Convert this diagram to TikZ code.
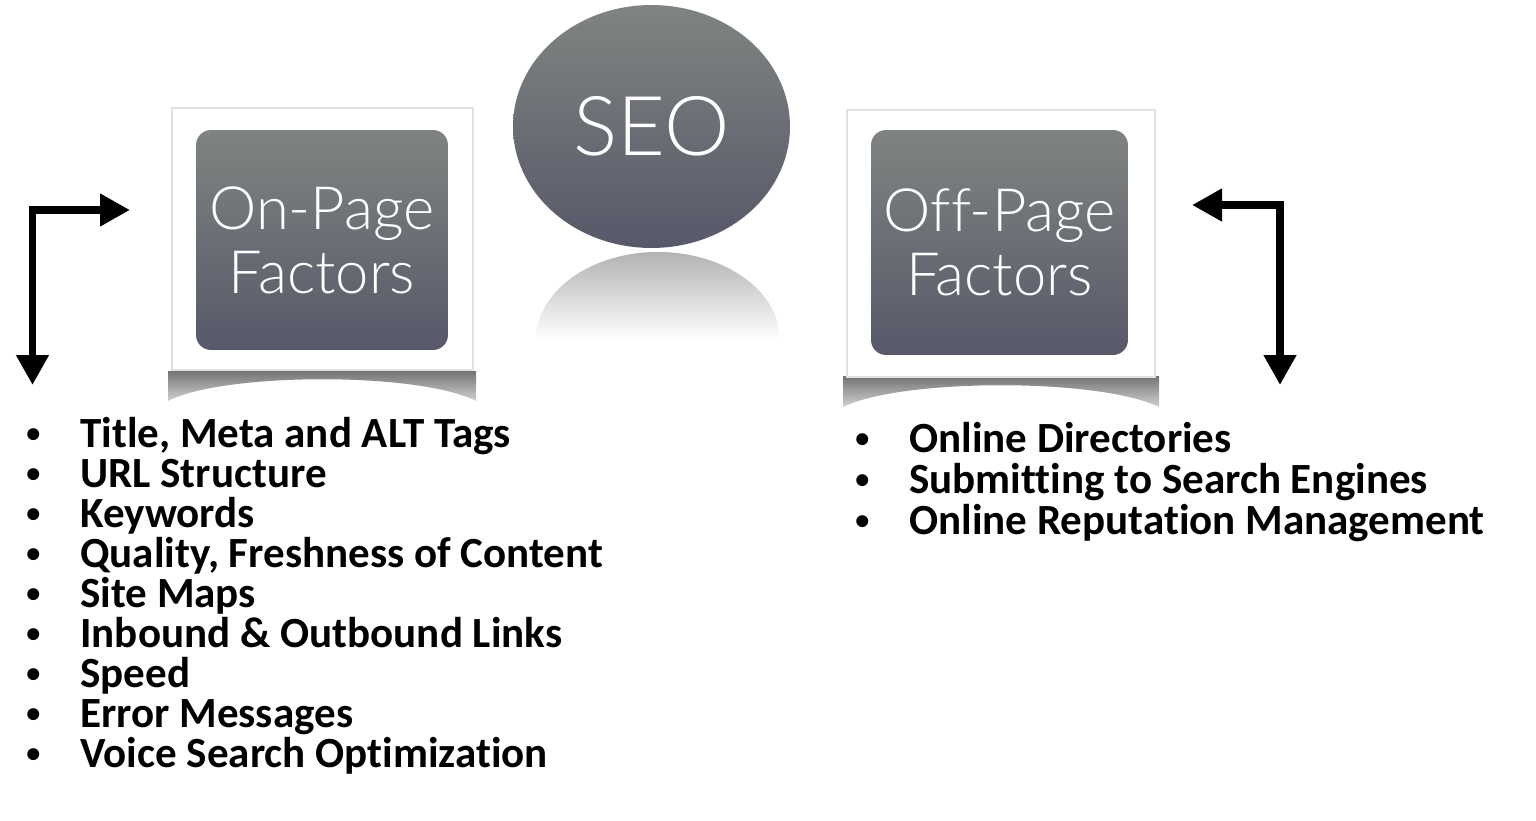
\documentclass[tikz,border=0pt]{standalone}
\usepackage{fontspec}
\setmainfont{Carlito}[Ligatures=NoCommon]
\newfontfamily\gill{Lato Light}[Ligatures=NoCommon]
\usepackage{tikz}
\usetikzlibrary{shapes.geometric,arrows.meta}
\definecolor{seotop}{RGB}{127,132,129}
\definecolor{seobot}{RGB}{87,88,105}
\definecolor{cardedge}{RGB}{225,225,225}
\tikzstyle{card} = [rectangle, fill=white, draw=cardedge, line width=1.5pt, inner sep=0pt]
\tikzstyle{factor} = [rectangle, rounded corners=0.3cm, top color=seotop, bottom color=seobot, text=white, align=center, inner sep=0pt, font=\gill\fontsize{34}{36.5}\selectfont]
\tikzstyle{globe} = [ellipse, top color=seotop, bottom color=seobot, minimum width=5.54cm, minimum height=4.86cm, inner sep=0pt, text=white, font=\gill\fontsize{47}{50}\selectfont]
\tikzstyle{shadowcurl} = [top color=black!55, bottom color=black!18]
\tikzstyle{reflect} = [top color=black!30, bottom color=white]
\tikzstyle{listitem} = [anchor=base west, inner sep=0pt, font=\bfseries\fontsize{24.5}{26}\selectfont]
\tikzstyle{arrow} = [line width=4.5pt, line join=miter, {Triangle[length=0.6cm,width=0.62cm]}-{Triangle[length=0.6cm,width=0.62cm]}]
\newcommand{\dotitem}[1]{\llap{\raisebox{0.1cm}{\fontsize{16}{16}\selectfont\textbullet}\hspace{0.8cm}}#1}

\begin{document}
\begin{tikzpicture}[x=0.02cm, y=-0.02cm]
\useasboundingbox (0,0) rectangle (1536,821);
\shade[reflect] (536,340) .. controls (536,291.4) and (590.6,252) .. (658,252) .. controls (725.4,252) and (780,291.4) .. (780,340) -- cycle;
\node (seo) [globe] at (651.5,126.5) {SEO};
\shade[shadowcurl] (168,371) -- (476,371) -- (476,401) .. controls (420,372) and (224,372) .. (168,401) -- cycle;
\shade[shadowcurl] (843,376) -- (1159,376) -- (1159,407) .. controls (1100,378) and (902,378) .. (843,407) -- cycle;
\node (oncard) [card, minimum width=6.02cm, minimum height=5.24cm] at (322.5,239) {};
\node (offcard) [card, minimum width=6.16cm, minimum height=5.34cm] at (1001,243.5) {};
\node (onpage) [factor, minimum width=5.04cm, minimum height=4.4cm] at (322,240) {On-Page\\Factors};
\node (offpage) [factor, minimum width=5.14cm, minimum height=4.5cm] at (999.5,242.5) {Off-Page\\Factors};
\coordinate (ondown) at (32.5,385);
\coordinate (onright) at (130,210);
\coordinate (offleft) at (1192,205);
\coordinate (offdown) at (1280,385);
\draw[arrow] (ondown) |- (onright);
\draw[arrow] (offleft) -| (offdown);
\foreach \txt [count=\i] in {{Title, Meta and ALT Tags}, URL Structure, Keywords, {Quality, Freshness of Content}, Site Maps, Inbound \& Outbound Links, Speed, Error Messages, Voice Search Optimization}
  \node (on\i) [listitem] at (80,406.9+40.1*\i) {\dotitem{\txt}};
\foreach \txt [count=\i] in {Online Directories, Submitting to Search Engines, Online Reputation Management}
  \node (off\i) [listitem] at (909,411+41*\i) {\dotitem{\txt}};
\end{tikzpicture}
\end{document}
